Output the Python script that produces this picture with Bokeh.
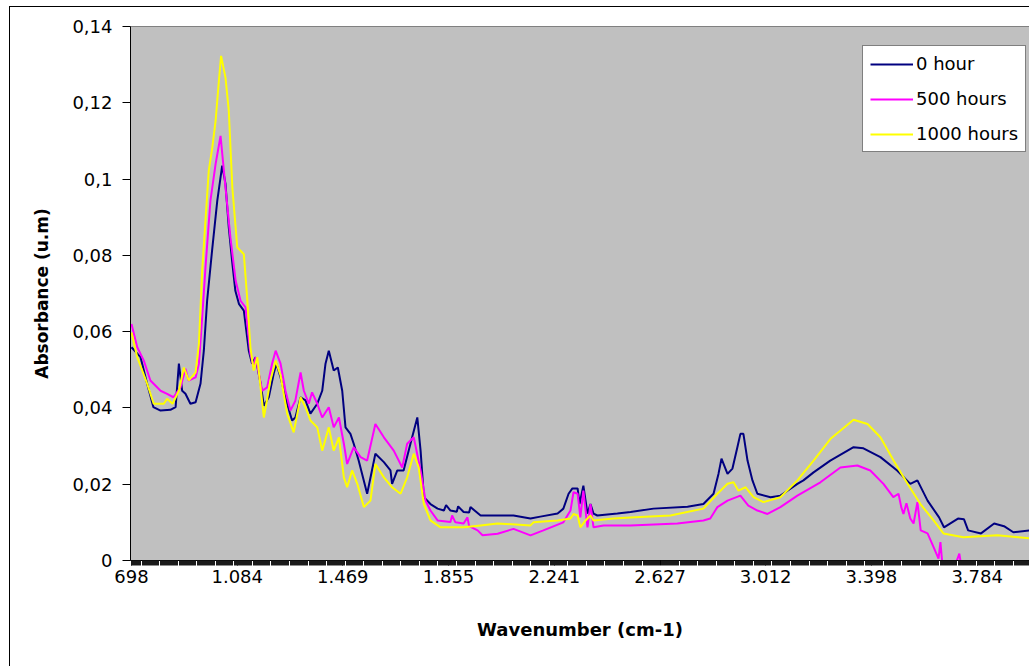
import numpy as np
from bokeh.plotting import figure
from bokeh.models import (FixedTicker, LinearAxis, Legend, LegendItem,
                          Range1d, ColumnDataSource, InlineStyleSheet)
from bokeh.embed import file_html
from bokeh.resources import INLINE

# ---------------- data ----------------
x_tick_values = [698, 1084, 1469, 1855, 2241, 2627, 3012, 3398, 3784]
x_tick_labels = ["698", "1.084", "1.469", "1.855", "2.241", "2.627", "3.012", "3.398", "3.784"]
y_tick_values = [0, 0.02, 0.04, 0.06, 0.08, 0.1, 0.12, 0.14]
y_tick_labels = ["0", "0,02", "0,04", "0,06", "0,08", "0,1", "0,12", "0,14"]

series_names = ["0 hour", "500 hours", "1000 hours"]
series_colors = ["#000080", "#FF00FF", "#FFFF00"]

wn_0h = [698, 731, 755, 778, 804, 840, 859, 871, 883, 895, 913, 932, 950, 962, 974, 992, 1011, 1029,
         1041, 1053, 1065, 1077, 1090, 1108, 1126, 1138, 1151, 1169, 1181, 1199, 1217, 1227, 1242,
         1266, 1284, 1296, 1315, 1333, 1351, 1376, 1394, 1406, 1418, 1436, 1451, 1467, 1479, 1497,
         1509, 1527, 1558, 1588, 1619, 1643, 1649, 1668, 1691, 1716, 1741, 1753, 1765, 1789, 1815,
         1838, 1846, 1862, 1885, 1890, 1910, 1930, 1935, 1972, 2034, 2092, 2154, 2190, 2253, 2274,
         2293, 2307, 2326, 2333, 2347, 2362, 2373, 2384, 2398, 2471, 2519, 2603, 2727, 2785, 2822,
         2840, 2851, 2873, 2891, 2909, 2920, 2931, 2946, 2964, 2982, 3030, 3066, 3092, 3128, 3150,
         3187, 3248, 3333, 3369, 3431, 3492, 3540, 3566, 3603, 3645, 3663, 3714, 3736, 3751, 3798,
         3846, 3882, 3916, 3975]
abs_0h = [0.0559, 0.0533, 0.0464, 0.0402, 0.0393, 0.0395, 0.0402, 0.0516, 0.0445, 0.0437, 0.0411,
          0.0415, 0.0464, 0.0550, 0.0681, 0.0812, 0.0943, 0.1035, 0.0988, 0.0873, 0.0786, 0.0707,
          0.0673, 0.0655, 0.0550, 0.0516, 0.0533, 0.0464, 0.0406, 0.0428, 0.0490, 0.0516, 0.0480,
          0.0411, 0.0367, 0.0375, 0.0428, 0.0420, 0.0385, 0.0411, 0.0445, 0.0516, 0.0550, 0.0498,
          0.0506, 0.0445, 0.0349, 0.0332, 0.0306, 0.0262, 0.0175, 0.0280, 0.0258, 0.0236, 0.0201,
          0.0236, 0.0236, 0.0306, 0.0375, 0.0288, 0.0166, 0.0148, 0.0136, 0.0131, 0.0145, 0.0131,
          0.0128, 0.0142, 0.0127, 0.0126, 0.0140, 0.0118, 0.0118, 0.0118, 0.0110, 0.0115, 0.0123,
          0.0136, 0.0175, 0.0189, 0.0189, 0.0148, 0.0196, 0.0123, 0.0148, 0.0123, 0.0118, 0.0123,
          0.0127, 0.0136, 0.0141, 0.0148, 0.0175, 0.0227, 0.0267, 0.0227, 0.0241, 0.0297, 0.0332,
          0.0332, 0.0262, 0.0210, 0.0175, 0.0166, 0.0170, 0.0183, 0.0201, 0.0210, 0.0231, 0.0262,
          0.0297, 0.0294, 0.0271, 0.0236, 0.0201, 0.0210, 0.0157, 0.0113, 0.0087, 0.0110, 0.0108,
          0.0079, 0.0071, 0.0097, 0.0090, 0.0074, 0.0079]

wn_500h = [698, 719, 743, 767, 804, 828, 851, 877, 895, 906, 932, 944, 956, 968, 986, 1005, 1023,
           1041, 1059, 1078, 1096, 1114, 1132, 1144, 1151, 1175, 1193, 1211, 1224, 1242, 1260, 1278,
           1296, 1315, 1327, 1345, 1357, 1376, 1394, 1418, 1436, 1455, 1473, 1485, 1509, 1534, 1558,
           1588, 1619, 1655, 1686, 1704, 1728, 1753, 1771, 1789, 1815, 1862, 1868, 1880, 1910, 1924,
           1930, 1961, 1979, 2034, 2092, 2154, 2201, 2274, 2300, 2311, 2326, 2336, 2347, 2362, 2373,
           2384, 2421, 2519, 2690, 2785, 2810, 2836, 2873, 2920, 2949, 2982, 3019, 3066, 3128, 3212,
           3285, 3347, 3394, 3442, 3478, 3497, 3507, 3515, 3526, 3540, 3552, 3566, 3578, 3603, 3625,
           3643, 3650, 3657, 3705, 3719, 3727, 3975]
abs_500h = [0.0620, 0.0559, 0.0524, 0.0472, 0.0445, 0.0437, 0.0428, 0.0454, 0.0503, 0.0472, 0.0480,
            0.0516, 0.0637, 0.0768, 0.0943, 0.1040, 0.1113, 0.0978, 0.0847, 0.0734, 0.0681, 0.0664,
            0.0542, 0.0506, 0.0533, 0.0445, 0.0454, 0.0516, 0.0550, 0.0516, 0.0445, 0.0393, 0.0419,
            0.0493, 0.0445, 0.0411, 0.0441, 0.0411, 0.0375, 0.0402, 0.0349, 0.0375, 0.0306, 0.0253,
            0.0297, 0.0271, 0.0262, 0.0358, 0.0323, 0.0288, 0.0244, 0.0306, 0.0323, 0.0236, 0.0157,
            0.0131, 0.0105, 0.0101, 0.0118, 0.0100, 0.0097, 0.0113, 0.0090, 0.0079, 0.0066, 0.0070,
            0.0083, 0.0066, 0.0079, 0.0100, 0.0131, 0.0179, 0.0175, 0.0113, 0.0183, 0.0087, 0.0148,
            0.0087, 0.0092, 0.0092, 0.0097, 0.0105, 0.0110, 0.0140, 0.0157, 0.0170, 0.0144, 0.0131,
            0.0122, 0.0140, 0.0170, 0.0205, 0.0244, 0.0249, 0.0236, 0.0201, 0.0166, 0.0175, 0.0140,
            0.0122, 0.0150, 0.0110, 0.0097, 0.0153, 0.0079, 0.0071, 0.0035, 0.0005, 0.0048, -0.0010,
            -0.0010, 0.0018, -0.0020, -0.0030]

wn_1000h = [698, 719, 755, 779, 816, 828, 848, 871, 889, 907, 932, 944, 956, 968, 980, 993, 1005,
            1017, 1025, 1041, 1053, 1066, 1084, 1108, 1120, 1132, 1144, 1157, 1169, 1181, 1205, 1224,
            1242, 1266, 1290, 1315, 1333, 1351, 1376, 1394, 1418, 1436, 1455, 1473, 1485, 1503, 1522,
            1546, 1570, 1588, 1619, 1649, 1680, 1704, 1728, 1746, 1765, 1789, 1826, 1910, 1972, 2034,
            2154, 2165, 2253, 2300, 2311, 2326, 2336, 2355, 2373, 2384, 2457, 2519, 2665, 2785, 2836,
            2873, 2895, 2913, 2939, 2968, 3004, 3066, 3128, 3187, 3249, 3333, 3384, 3431, 3479, 3530,
            3577, 3625, 3661, 3734, 3858, 3975]
abs_1000h = [0.0598, 0.0533, 0.0464, 0.0411, 0.0411, 0.0424, 0.0411, 0.0445, 0.0506, 0.0472, 0.0493,
             0.0568, 0.0760, 0.0891, 0.1022, 0.1083, 0.1153, 0.1258, 0.1323, 0.1266, 0.1180, 0.0978,
             0.0821, 0.0803, 0.0690, 0.0559, 0.0498, 0.0533, 0.0454, 0.0375, 0.0472, 0.0524, 0.0485,
             0.0385, 0.0336, 0.0428, 0.0402, 0.0367, 0.0349, 0.0288, 0.0349, 0.0288, 0.0323, 0.0218,
             0.0192, 0.0236, 0.0201, 0.0140, 0.0157, 0.0253, 0.0218, 0.0192, 0.0175, 0.0218, 0.0280,
             0.0244, 0.0148, 0.0105, 0.0087, 0.0087, 0.0092, 0.0097, 0.0092, 0.0100, 0.0105, 0.0110,
             0.0122, 0.0118, 0.0087, 0.0105, 0.0118, 0.0105, 0.0110, 0.0113, 0.0118, 0.0136, 0.0175,
             0.0201, 0.0205, 0.0183, 0.0192, 0.0166, 0.0153, 0.0166, 0.0210, 0.0262, 0.0319, 0.0369,
             0.0358, 0.0323, 0.0262, 0.0201, 0.0148, 0.0105, 0.0071, 0.0061, 0.0066, 0.0058]

# ---------------- figure ----------------
FONT = "DejaVu Sans"

p = figure(width=1029, height=666, output_backend="svg", toolbar_location=None,
           x_range=Range1d(694.4, 3975), y_range=Range1d(0, 0.14),
           min_border_left=130, min_border_right=0, min_border_top=26, min_border_bottom=106,
           background_fill_color="#C0C0C0", border_fill_color="white",
           outline_line_color=None)
p.xgrid.visible = False
p.ygrid.visible = False

renderers = []
for wn, ab, col in [(wn_0h, abs_0h, series_colors[0]),
                    (wn_500h, abs_500h, series_colors[1]),
                    (wn_1000h, abs_1000h, series_colors[2])]:
    src = ColumnDataSource(dict(x=wn, y=ab))
    r = p.line("x", "y", source=src, line_color=col, line_width=2)
    renderers.append(r)

# x axis (category-like, dense tick marks)
xa = p.xaxis[0]
minor = list(np.arange(698.0, 3975.0, 3.857))
xa.ticker = FixedTicker(ticks=x_tick_values, minor_ticks=minor)
xa.major_label_overrides = {v: l for v, l in zip(x_tick_values, x_tick_labels)}
xa.major_tick_out = 5
xa.major_tick_in = 0
xa.minor_tick_out = 5
xa.minor_tick_in = 0
xa.major_tick_line_color = "black"
xa.minor_tick_line_color = "#1a1a1a"
xa.axis_line_color = "black"
xa.major_label_text_font = FONT
xa.major_label_text_font_size = "18px"
xa.major_label_text_color = "black"
xa.major_label_standoff = 4
xa.axis_label = "Wavenumber (cm-1)"
xa.axis_label_text_font = FONT
xa.axis_label_text_font_size = "18px"
xa.axis_label_text_font_style = "bold"
xa.axis_label_text_color = "black"
xa.axis_label_standoff = 33

# y axis
ya = p.yaxis[0]
ya.ticker = FixedTicker(ticks=y_tick_values)
ya.major_label_overrides = {v: l for v, l in zip(y_tick_values, y_tick_labels)}
ya.major_tick_out = 8
ya.major_tick_in = 0
ya.minor_tick_out = 0
ya.minor_tick_in = 0
ya.major_tick_line_color = "black"
ya.axis_line_color = "black"
ya.major_label_text_font = FONT
ya.major_label_text_font_size = "18px"
ya.major_label_text_color = "black"
ya.major_label_standoff = 10
ya.axis_label = "Absorbance (u.m)"
ya.axis_label_text_font = FONT
ya.axis_label_text_font_size = "17px"
ya.axis_label_text_font_style = "bold"
ya.axis_label_text_color = "black"
ya.axis_label_standoff = 17

# top border of the plot area
top_axis = LinearAxis(ticker=FixedTicker(ticks=[]), axis_line_color="#808080",
                      major_tick_out=0, minor_tick_out=0, major_label_text_font_size="0px")
p.add_layout(top_axis, "above")

# legend
legend = Legend(items=[LegendItem(label=n, renderers=[r]) for n, r in zip(series_names, renderers)],
                location=(732, 408), background_fill_color="white", background_fill_alpha=1.0,
                border_line_color="black", border_line_width=1, padding=7, spacing=14,
                glyph_width=43, glyph_height=20, label_standoff=3, margin=0,
                label_text_font=FONT, label_text_font_size="18px", label_text_color="black")
p.add_layout(legend)

# outer chart border (right and bottom edges fall outside the page, as in the original)
p.stylesheets = [InlineStyleSheet(css="""
:host { position: relative; overflow: hidden; }
:host::after { content: ""; position: absolute; left: 9px; top: 6px; right: -10px; bottom: -10px;
               border: 1px solid #000; pointer-events: none; }
""")]

open("out.html", "w").write(file_html(p, INLINE))
